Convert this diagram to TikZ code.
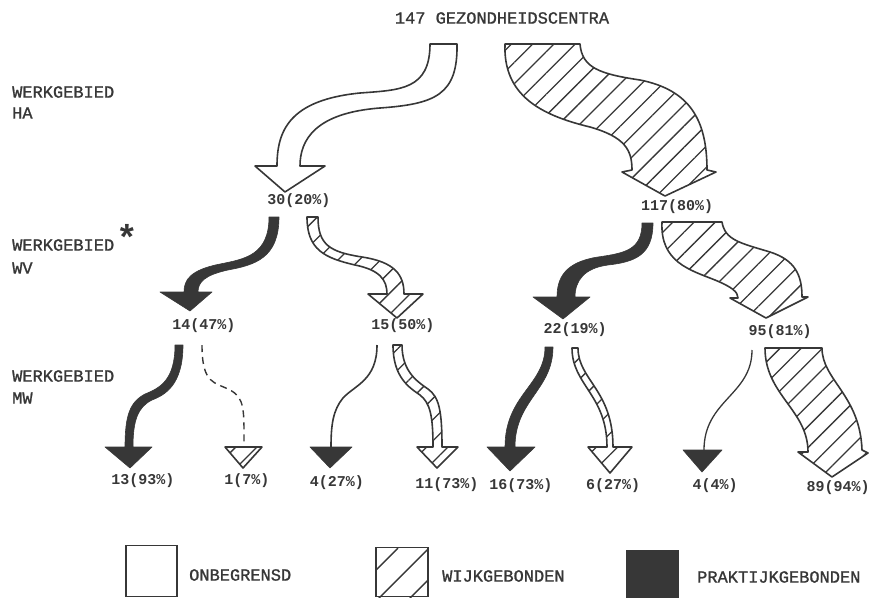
\documentclass[tikz,border=0pt]{standalone}
\usepackage{fontspec}
\setmonofont{Liberation Mono}
\usetikzlibrary{patterns.meta}
\definecolor{ink}{RGB}{55,55,55}
\begin{document}
\begin{tikzpicture}[x=1pt,y=-1pt,
  outl/.style={draw=ink,line width=1.6pt,line join=round},
  blank/.style={outl,fill=white},
  hatch/.style={outl,pattern={Lines[angle=45,distance=15pt,line width=1.3pt]},pattern color=ink},
  dark/.style={draw=ink,line width=0.6pt,line join=round,fill=ink},
  dashline/.style={draw=ink,line width=1.4pt,dash pattern=on 7pt off 5pt},
  thinline/.style={draw=ink,line width=1.6pt},
  lbl/.style={font=\ttfamily\bfseries\fontsize{15}{15}\selectfont,text=ink,inner sep=0pt},
  word/.style={font=\ttfamily\addfontfeature{FakeBold=1.2}\fontsize{17}{17}\selectfont,text=ink,inner sep=0pt,anchor=west},
  legbox/.style={draw=ink,line width=1.5pt,inner sep=0pt},
]
\useasboundingbox (0,0) rectangle (873,598);

% ---- labels ----
\node[word,anchor=center] (title) at (502,18) {147 GEZONDHEIDSCENTRA};
\node[word] (ha1) at (12,92) {WERKGEBIED};
\node[word] (ha2) at (12,113) {HA};
\node[word] (wv1) at (12,245) {WERKGEBIED};
\node[word] (wv2) at (12,268) {WV};
\node[word,anchor=center,font=\ttfamily\bfseries\fontsize{36}{36}\selectfont] (ast) at (127,237) {*};
\node[word] (mw1) at (12,376) {WERKGEBIED};
\node[word] (mw2) at (12,398) {MW};

\node[lbl] (n30) at (299,201) {30(20\%)};
\node[lbl] (n117) at (677,207) {117(80\%)};
\node[lbl] (n14) at (204,326) {14(47\%)};
\node[lbl] (n15) at (403,326) {15(50\%)};
\node[lbl] (n22) at (575,330) {22(19\%)};
\node[lbl] (n95) at (780,332) {95(81\%)};
\node[lbl] (n13) at (143,481) {13(93\%)};
\node[lbl] (n1) at (247,481) {1(7\%)};
\node[lbl] (n4a) at (337,483) {4(27\%)};
\node[lbl] (n11) at (447,485) {11(73\%)};
\node[lbl] (n16) at (521,486) {16(73\%)};
\node[lbl] (n6) at (613,486) {6(27\%)};
\node[lbl] (n4b) at (715,486) {4(4\%)};
\node[lbl] (n89) at (838,488) {89(94\%)};

% ---- level HA ----
\draw[blank] (430,44) -- (457,44) .. controls (458,95) and (435,104) .. (380,108)
  .. controls (315,113) and (300,140) .. (300,166) -- (325,166) -- (285,192) -- (255,166) -- (277,166)
  .. controls (277,130) and (290,100) .. (360,93) .. controls (400,90) and (430,90) .. (430,44) -- cycle;
\draw[hatch] (505,44) -- (580,44) .. controls (582,68) and (600,74) .. (640,80)
  .. controls (690,90) and (707,120) .. (707,170) -- (716,172) -- (665,196) -- (622,172) -- (632,170)
  .. controls (632,150) and (625,137) .. (590,127) .. controls (540,115) and (503,95) .. (505,44) -- cycle;

% ---- level WV ----
\draw[dark] (269,217) -- (279,217) .. controls (279,258) and (255,265) .. (228,270)
  .. controls (205,275) and (198,282) .. (198,292) -- (212,292) -- (190,311) -- (160,292) -- (184,292)
  .. controls (184,280) and (190,270) .. (220,264) .. controls (245,259) and (269,255) .. (269,217) -- cycle;
\draw[hatch] (307,217) -- (318,217) .. controls (318,245) and (330,252) .. (362,257)
  .. controls (395,262) and (404,275) .. (404,294) -- (423,294) -- (397,318) -- (368,294) -- (387,294)
  .. controls (387,280) and (380,270) .. (355,265) .. controls (325,258) and (307,250) .. (307,217) -- cycle;
\draw[dark] (642,223) -- (653,223) .. controls (653,255) and (635,262) .. (608,265)
  .. controls (585,268) and (575,280) .. (575,297) -- (590,297) -- (563,319) -- (533,297) -- (557,297)
  .. controls (557,278) and (565,262) .. (598,257) .. controls (625,253) and (642,250) .. (642,223) -- cycle;
\draw[hatch] (662,222) -- (722,222) .. controls (725,240) and (740,243) .. (770,252)
  .. controls (795,260) and (802,275) .. (802,297) -- (808,297) -- (766,318) -- (730,298) -- (738,298)
  .. controls (738,292) and (732,287) .. (715,280) .. controls (690,270) and (660,262) .. (662,222) -- cycle;

% ---- level MW ----
\draw[dark] (175,345) -- (183,345) .. controls (183,385) and (165,395) .. (152,400)
  .. controls (138,407) and (133,420) .. (133,447) -- (152,447) -- (130,468) -- (105,447) -- (125,447)
  .. controls (125,415) and (130,402) .. (145,394) .. controls (160,388) and (175,380) .. (175,345) -- cycle;
\draw[dashline] (202,345) .. controls (202,385) and (215,382) .. (230,390) .. controls (245,398) and (244,410) .. (244,447);
\draw[hatch] (225,447) -- (262,447) -- (243,468) -- cycle;
\draw[thinline] (377,345) .. controls (377,380) and (355,385) .. (343,398) .. controls (333,410) and (331,425) .. (331,447);
\draw[dark] (310,447) -- (352,447) -- (330,468) -- cycle;
\draw[hatch] (393,345) -- (402,345) .. controls (402,372) and (418,382) .. (428,389)
  .. controls (439,397) and (442,410) .. (442,447) -- (458,447) -- (437,468) -- (417,447) -- (433,447)
  .. controls (433,415) and (430,403) .. (420,395) .. controls (410,388) and (393,378) .. (393,345) -- cycle;
\draw[dark] (545,347) -- (553,347) .. controls (553,390) and (515,400) .. (515,447) -- (535,447) -- (510,471)
  -- (487,447) -- (505,447) .. controls (505,395) and (545,385) .. (545,347) -- cycle;
\draw[hatch] (572,348) -- (578,348) .. controls (578,380) and (613,390) .. (613,447) -- (632,447) -- (610,473)
  -- (588,447) -- (607,447) .. controls (607,395) and (572,385) .. (572,348) -- cycle;
\draw[thinline,line width=1.3pt] (752,350) .. controls (752,395) and (704,400) .. (704,450);
\draw[dark] (683,450) -- (722,450) -- (702,472) -- cycle;
\draw[hatch] (765,348) -- (822,348) .. controls (822,380) and (860,395) .. (862,450) -- (868,453) -- (832,477)
  -- (798,452) -- (808,452) .. controls (808,410) and (765,395) .. (765,348) -- cycle;

% ---- legend ----
\node[legbox,fill=white,minimum width=51pt,minimum height=51pt] (lgw) at (151.5,571) {};
\node[word] (lgwt) at (189,575) {ONBEGRENSD};
\node[legbox,minimum width=52pt,minimum height=49pt] (lgh) at (402,572) {};
\begin{scope}
  \clip (lgh.south west) rectangle (lgh.north east);
  \draw[ink,line width=1.4pt] (376,570) -- (398,548) (376,601) -- (429,548) (407,601) -- (429,579);
\end{scope}
\node[word] (lght) at (442,576) {WIJKGEBONDEN};
\node[legbox,fill=ink,minimum width=51pt,minimum height=47pt] (lgb) at (652.5,574) {};
\node[word] (lgbt) at (697,577) {PRAKTIJKGEBONDEN};
\end{tikzpicture}
\end{document}
